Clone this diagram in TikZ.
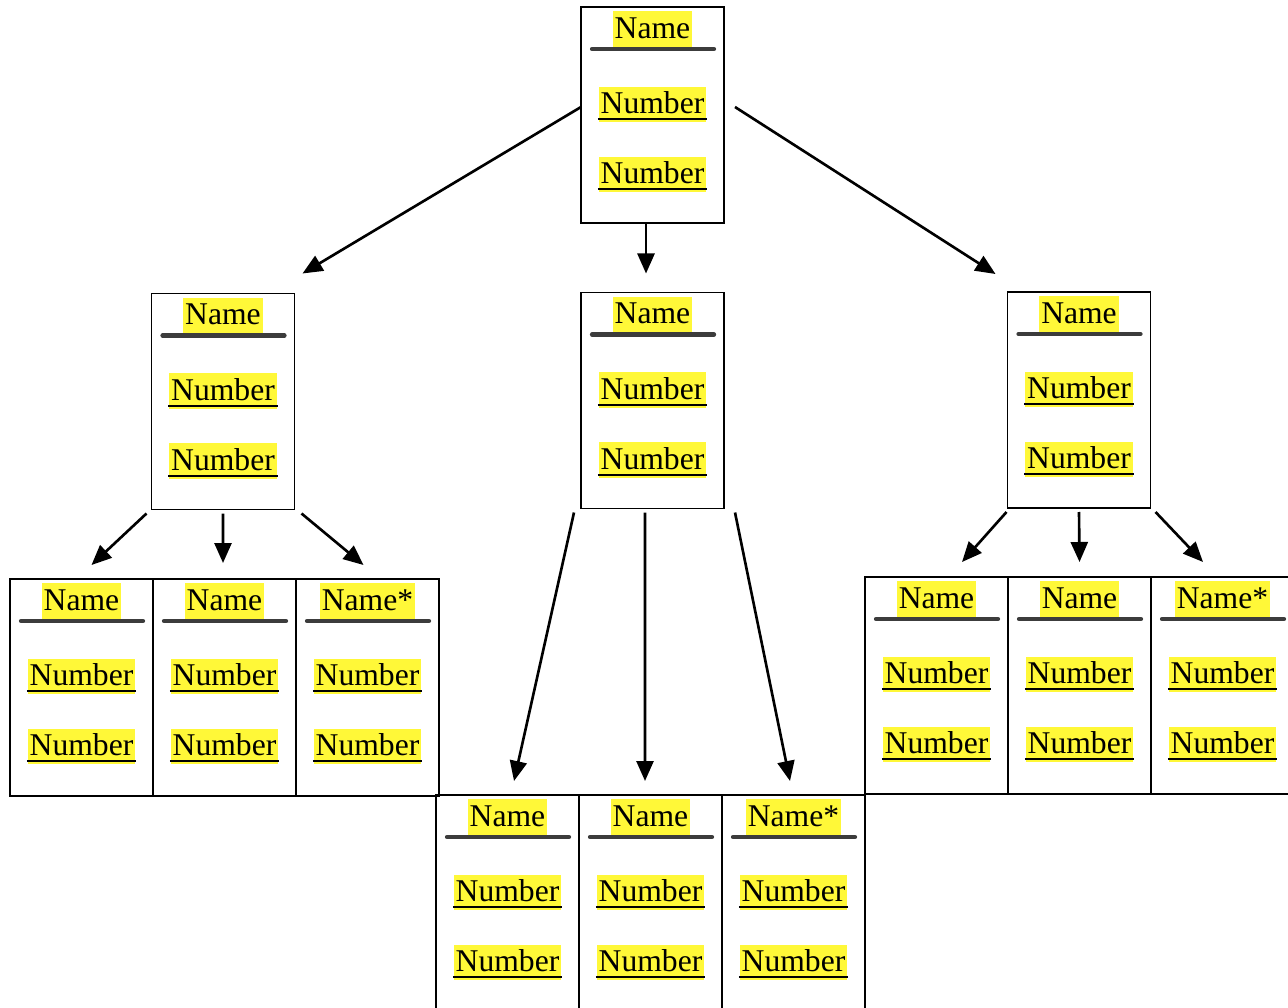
\documentclass[tikz,border=0pt]{standalone}
\usepackage{fontspec}
\setmainfont{Liberation Serif}
\usepackage{tikz}
\usepackage{xcolor}
\usetikzlibrary{arrows.meta,positioning}

\definecolor{hlyellow}{HTML}{FFF838}
\definecolor{bargray}{HTML}{3C3C3C}

\tikzset{
  tbl/.style={draw, line width=0.55pt, minimum width=1.43cm, minimum height=2.16cm, inner sep=0pt, outer sep=0pt},
  cell/.style={tbl, minimum height=2.17cm},
  hl/.style={fill=hlyellow, inner xsep=0.6pt, inner ysep=0pt, text height=7.6pt, text depth=2.4pt, font=\fontsize{9}{11}\selectfont},
  namebar/.style={draw=bargray, line width=1.2pt, line cap=round},
  uline/.style={line width=0.6pt},
  arr/.style={-{Triangle[length=0.2cm,width=0.17cm]}, line width=0.75pt}
}

\begin{document}
\begin{tikzpicture}
\useasboundingbox (0,0) rectangle (12.88,-10.08);
\clip (0,0) rectangle (12.88,-10.08);

% tables
\node[tbl] (root) at (6.525,-1.15) {};
\node[tbl] (ml) at (2.23,-4.015) {};
\node[tbl] (mc) at (6.525,-4.005) {};
\node[tbl] (mr) at (10.79,-4.0) {};

\node[cell, anchor=north west] (bl1) at (0.10,-5.79) {};
\node[cell, right=0pt of bl1] (bl2) {};
\node[cell, right=0pt of bl2] (bl3) {};

\node[cell, anchor=north west] (bc1) at (4.36,-7.95) {};
\node[cell, right=0pt of bc1] (bc2) {};
\node[cell, right=0pt of bc2] (bc3) {};

\node[cell, anchor=north west] (br1) at (8.65,-5.77) {};
\node[cell, right=0pt of br1] (br2) {};
\node[cell, right=0pt of br2] (br3) {};

% fields
\foreach \t/\lbl in {root/Name, ml/Name, mc/Name, mr/Name,
    bl1/Name, bl2/Name, bl3/Name*, bc1/Name, bc2/Name, bc3/Name*,
    br1/Name, br2/Name, br3/Name*}{
  \node[hl] (\t-n) at ([yshift=-0.22cm]\t.north) {\lbl};
  \draw[namebar] ([xshift=0.11cm,yshift=-0.42cm]\t.north west) -- ([xshift=-0.10cm,yshift=-0.42cm]\t.north east);
  \node[hl] (\t-a) at ([yshift=-0.975cm]\t.north) {Number};
  \node[hl] (\t-b) at ([yshift=-1.675cm]\t.north) {Number};
  \draw[uline] ([yshift=1pt]\t-a.south west) -- ([yshift=1pt]\t-a.south east);
  \draw[uline] ([yshift=1pt]\t-b.south west) -- ([yshift=1pt]\t-b.south east);
}

% links
\draw[arr] ([yshift=0.08cm]root.west) -- ([xshift=0.08cm,yshift=0.20cm]ml.north east);
\draw[arr] ([xshift=-0.065cm]root.south) -- ([xshift=-0.065cm,yshift=0.19cm]mc.north);
\draw[arr] ([xshift=0.11cm,yshift=0.08cm]root.east) -- ([xshift=-0.12cm,yshift=0.18cm]mr.north west);

\draw[arr] ([xshift=-0.05cm,yshift=-0.04cm]ml.south west) -- ([xshift=0.10cm,yshift=0.14cm]bl1.north);
\draw[arr] ([yshift=-0.04cm]ml.south) -- ([xshift=-0.015cm,yshift=0.16cm]bl2.north);
\draw[arr] ([xshift=0.07cm,yshift=-0.04cm]ml.south east) -- ([xshift=-0.04cm,yshift=0.14cm]bl3.north);

\draw[arr] ([xshift=-0.07cm,yshift=-0.04cm]mc.south west) -- ([xshift=0.065cm,yshift=0.14cm]bc1.north);
\draw[arr] ([xshift=-0.075cm,yshift=-0.04cm]mc.south) -- ([xshift=-0.055cm,yshift=0.14cm]bc2.north);
\draw[arr] ([xshift=0.11cm,yshift=-0.04cm]mc.south east) -- ([xshift=-0.035cm,yshift=0.14cm]bc3.north);

\draw[arr] ([xshift=-0.01cm,yshift=-0.04cm]mr.south west) -- ([xshift=0.255cm,yshift=0.15cm]br1.north);
\draw[arr] ([yshift=-0.04cm]mr.south) -- ([yshift=0.15cm]br2.north);
\draw[arr] ([xshift=0.05cm,yshift=-0.04cm]mr.south east) -- ([xshift=-0.195cm,yshift=0.15cm]br3.north);

\end{tikzpicture}
\end{document}
